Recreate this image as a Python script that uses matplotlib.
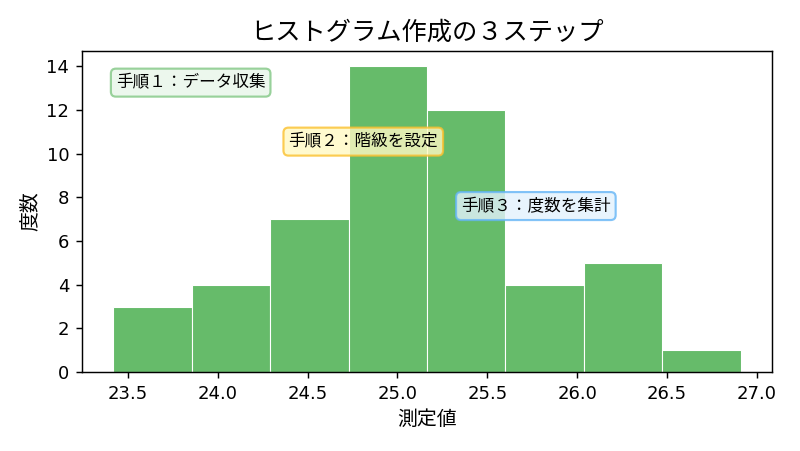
import matplotlib
matplotlib.use("Agg")
import matplotlib.pyplot as plt
import numpy as np

plt.rcParams['font.family'] = ['DejaVu Sans', 'Noto Sans CJK JP']

# Data
bin_edges = [23.42, 23.857, 24.293, 24.729, 25.165, 25.601, 26.037, 26.473, 26.909]
counts = [3, 4, 7, 14, 12, 4, 5, 1]

title = "ヒストグラム作成の３ステップ"
xlabel = "測定値"
ylabel = "度数"

step_texts = ["手順１：データ収集", "手順２：階級を設定", "手順３：度数を集計"]
step_x = [23.85, 24.81, 25.77]
step_y = [13.25, 10.55, 7.6]
step_face = ["#e8f5e9", "#fff9c4", "#e3f2fd"]
step_edge = ["#81c784", "#fbc02d", "#64b5f6"]

DPI = 130
fig, ax = plt.subplots(figsize=(800 / DPI, 451 / DPI), dpi=DPI)
fig.subplots_adjust(left=0.1025, right=0.965, top=0.887, bottom=0.175)

edges = np.array(bin_edges)
ax.bar(edges[:-1], counts, width=np.diff(edges), align='edge',
       color='#66bb6a', edgecolor='white', linewidth=0.6)

for t, x, y, fc, ec in zip(step_texts, step_x, step_y, step_face, step_edge):
    ax.text(x, y, t, ha='center', va='center', fontsize=9.2,
            bbox=dict(boxstyle='round,pad=0.3', facecolor=fc, edgecolor=ec,
                      linewidth=1.2, alpha=0.8))

ax.set_title(title, fontsize=14)
ax.set_xlabel(xlabel, fontsize=11)
ax.set_ylabel(ylabel, fontsize=11)
ax.tick_params(labelsize=10)

fig.savefig("out.png", dpi=DPI)
